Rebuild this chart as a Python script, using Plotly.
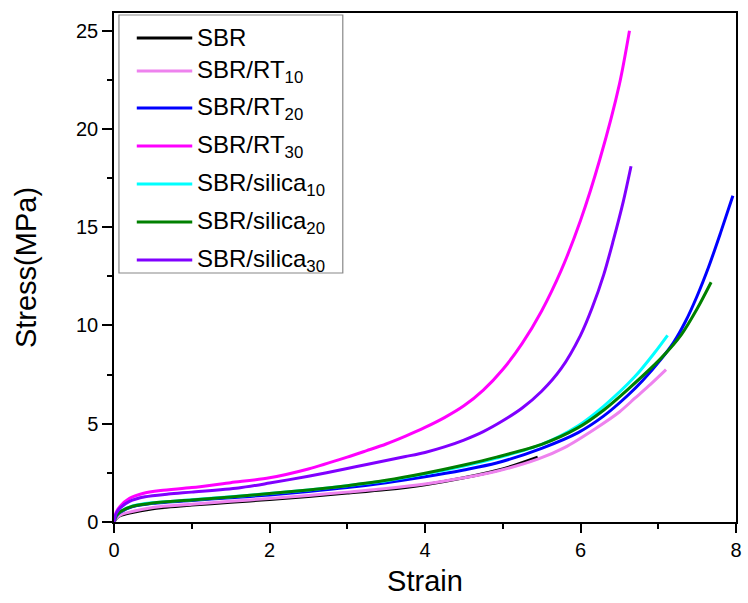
import plotly.graph_objects as go

# Tensile stress-strain curves of SBR and filled SBR compounds
strain_sbr = [0, 0.03, 0.08, 0.2, 0.5, 1.0, 1.5, 2.0, 2.5, 3.0, 3.5, 4.0, 4.5, 5.0, 5.45]
stress_sbr = [0, 0.18, 0.32, 0.46, 0.68, 0.86, 1.0, 1.15, 1.3, 1.47, 1.65, 1.9, 2.25, 2.7, 3.3]

strain_rt10 = [0, 0.03, 0.08, 0.2, 0.5, 1.0, 1.5, 2.0, 2.5, 3.0, 3.5, 4.0, 4.5, 4.92, 5.45, 5.8, 6.19, 6.5, 6.7, 6.9, 7.1]
stress_rt10 = [0, 0.2, 0.35, 0.5, 0.74, 0.9, 1.05, 1.2, 1.35, 1.52, 1.7, 1.93, 2.25, 2.58, 3.2, 3.8, 4.75, 5.6, 6.3, 7.0, 7.75]

strain_rt20 = [0, 0.03, 0.08, 0.24, 0.5, 1.0, 1.5, 2.0, 2.5, 3.0, 3.5, 4.0, 4.5, 4.92, 5.5, 5.97, 6.3, 6.61, 6.8, 7.04, 7.2, 7.35, 7.5, 7.65, 7.8, 7.96]
stress_rt20 = [0, 0.3, 0.5, 0.78, 0.95, 1.1, 1.23, 1.38, 1.55, 1.75, 2.0, 2.3, 2.65, 3.0, 3.75, 4.55, 5.4, 6.45, 7.2, 8.3, 9.15, 10.2, 11.5, 13.0, 14.7, 16.6]

strain_rt30 = [0, 0.03, 0.08, 0.2, 0.37, 0.6, 1.0, 1.5, 2.0, 2.5, 3.0, 3.25, 3.5, 3.75, 4.0, 4.25, 4.5, 4.75, 5.0, 5.25, 5.5, 5.75, 6.0, 6.25, 6.5, 6.63]
stress_rt30 = [0, 0.5, 0.8, 1.2, 1.45, 1.6, 1.75, 2.0, 2.25, 2.7, 3.3, 3.63, 3.97, 4.37, 4.81, 5.31, 5.91, 6.71, 7.76, 9.09, 10.74, 12.79, 15.34, 18.47, 22.27, 25.0]

strain_si10 = [0, 0.03, 0.08, 0.24, 0.5, 1.0, 1.5, 2.0, 2.5, 3.0, 3.5, 4.0, 4.5, 4.92, 5.5, 5.97, 6.3, 6.7, 6.95, 7.12]
stress_si10 = [0, 0.32, 0.53, 0.82, 0.98, 1.13, 1.28, 1.45, 1.63, 1.85, 2.1, 2.45, 2.85, 3.25, 3.95, 4.9, 5.9, 7.4, 8.6, 9.5]

strain_si20 = [0, 0.03, 0.08, 0.24, 0.5, 1.0, 1.5, 2.0, 2.5, 3.0, 3.5, 4.0, 4.5, 4.92, 5.5, 5.97, 6.3, 6.61, 7.04, 7.3, 7.5, 7.68]
stress_si20 = [0, 0.32, 0.52, 0.8, 0.97, 1.12, 1.27, 1.45, 1.63, 1.85, 2.12, 2.48, 2.9, 3.3, 3.95, 4.8, 5.7, 6.75, 8.35, 9.55, 10.85, 12.2]

strain_si30 = [0, 0.03, 0.08, 0.2, 0.4, 0.7, 1.0, 1.6, 2.0, 2.5, 3.0, 3.25, 3.5, 3.75, 4.0, 4.25, 4.5, 4.75, 5.0, 5.25, 5.5, 5.75, 6.0, 6.15, 6.3, 6.42, 6.55, 6.65]
stress_si30 = [0, 0.45, 0.72, 1.05, 1.28, 1.42, 1.52, 1.73, 1.98, 2.33, 2.72, 2.93, 3.13, 3.33, 3.54, 3.82, 4.17, 4.6, 5.15, 5.8, 6.65, 7.8, 9.5, 10.9, 12.6, 14.3, 16.3, 18.1]

series_names = ["SBR", "SBR/RT<sub>10</sub>", "SBR/RT<sub>20</sub>", "SBR/RT<sub>30</sub>",
                "SBR/silica<sub>10</sub>", "SBR/silica<sub>20</sub>", "SBR/silica<sub>30</sub>"]
series_colors = ["#000000", "#EE82EE", "#0000FF", "#FF00FF", "#00FFFF", "#008000", "#8000FF"]
series_data = [
    (strain_sbr, stress_sbr),
    (strain_rt10, stress_rt10),
    (strain_rt20, stress_rt20),
    (strain_rt30, stress_rt30),
    (strain_si10, stress_si10),
    (strain_si20, stress_si20),
    (strain_si30, stress_si30),
]

FONT = "Liberation Sans, Arial, sans-serif"

fig = go.Figure()
for name, color, (xs, ys) in zip(series_names, series_colors, series_data):
    fig.add_trace(go.Scatter(
        x=xs, y=ys, mode="lines", name=name,
        line=dict(color=color, width=3, shape="spline", smoothing=0.8),
        showlegend=False,
    ))

# Framed legend box drawn in paper coordinates
W, H = 748, 603
L, R, T, B = 114, 6, 13, 81
pw, ph = W - L - R, H - T - B


def px(xp):
    return (xp - L) / pw


def py(yp):
    return (H - B - yp) / ph


fig.add_shape(type="rect", xref="paper", yref="paper",
              x0=px(119), x1=px(345), y0=py(273), y1=py(15),
              line=dict(color="#888888", width=1.2), fillcolor="rgba(0,0,0,0)")

row_y = [38, 71, 108, 146, 184, 222, 260]
for name, color, yy in zip(series_names, series_colors, row_y):
    fig.add_shape(type="line", xref="paper", yref="paper",
                  x0=px(137), x1=px(193), y0=py(yy), y1=py(yy),
                  line=dict(color=color, width=3))
    fig.add_annotation(xref="paper", yref="paper", x=px(196), y=py(yy),
                       text=name, showarrow=False, xanchor="left", yanchor="middle",
                       font=dict(family=FONT, size=24, color="black"))

fig.update_layout(
    width=W, height=H,
    margin=dict(l=L, r=R, t=T, b=B),
    plot_bgcolor="white", paper_bgcolor="white",
    font=dict(family=FONT, color="black"),
    showlegend=False,
)

fig.update_xaxes(
    range=[0, 8], tickvals=[0, 2, 4, 6, 8],
    ticks="outside", ticklen=9, tickwidth=1.5, tickcolor="black",
    minor=dict(tickvals=[1, 3, 5, 7], ticks="outside", ticklen=5, tickwidth=1.5, tickcolor="black"),
    showline=True, linecolor="black", linewidth=1.5, mirror=True,
    showgrid=False, zeroline=False,
    tickfont=dict(family=FONT, size=20),
    title=dict(text="Strain", font=dict(family=FONT, size=29), standoff=11),
)
fig.update_yaxes(
    range=[0, 25.9], tickvals=[0, 5, 10, 15, 20, 25],
    ticks="outside", ticklen=10, tickwidth=1.5, tickcolor="black",
    minor=dict(tickvals=[2.5, 7.5, 12.5, 17.5, 22.5], ticks="outside", ticklen=5, tickwidth=1.5, tickcolor="black"),
    showline=True, linecolor="black", linewidth=1.5, mirror=True,
    showgrid=False, zeroline=False,
    tickfont=dict(family=FONT, size=20),
    title=dict(text="Stress(MPa)", font=dict(family=FONT, size=29), standoff=31),
)

fig.write_html("out.html")
